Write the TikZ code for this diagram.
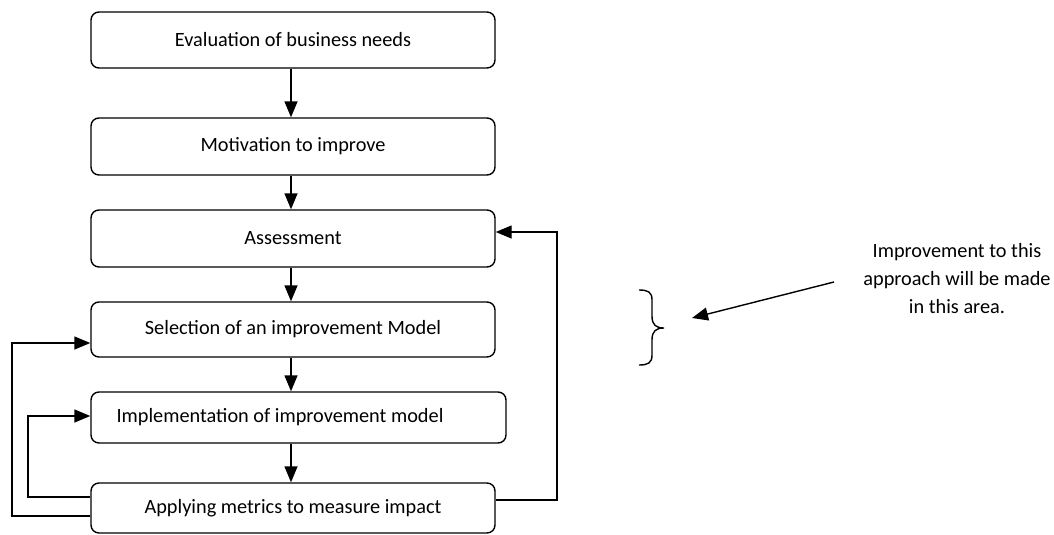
\documentclass[tikz,border=0pt]{standalone}
\usepackage{fontspec}
\setmainfont{Carlito}
\usetikzlibrary{arrows.meta,calc}
\begin{document}
\begin{tikzpicture}[x=1pt,y=-1pt,
  every node/.style={font=\fontsize{20.3pt}{28pt}\selectfont},
  stepbox/.style={draw,line width=1.4pt,rounded corners=8pt,inner sep=0pt,minimum width=404pt,minimum height=#1},
  conn/.style={line width=1.4pt,-{Triangle[length=16pt,width=13pt]}},
  plain/.style={line width=1.4pt}]
\useasboundingbox (0,0) rectangle (1054,535);
\node[stepbox=56pt] (b1) at (293,40) {Evaluation of business needs};
\node[stepbox=57pt] (b2) at (293,146.5) {Motivation to improve};
\node[stepbox=57pt] (b3) at (293,238.5) {Assessment};
\node[stepbox=55pt] (b4) at (293,329.5) {Selection of an improvement Model};
\node[stepbox=51pt,minimum width=415pt] (b5) at (298.5,417.5) {};
\node (t5) at (280,417) {Implementation of improvement model};
\node[stepbox=50pt] (b6) at (293,508) {Applying metrics to measure impact};
% down arrows
\draw[conn] ([xshift=-2pt]b1.south) -- ([xshift=-2pt]b2.north);
\draw[conn] ([xshift=-2pt]b2.south) -- ([xshift=-2pt]b3.north);
\draw[conn] ([xshift=-2pt]b3.south) -- ([xshift=-2pt]b4.north);
\draw[conn] ([xshift=-2pt]b4.south) -- ([xshift=-2pt]b4.south |- b5.north);
\draw[conn] ([xshift=-2pt]b4.south |- b5.south) -- ([xshift=-2pt]b6.north);
% feedback loops
\coordinate (r1) at (557,500);
\coordinate (r2) at (557,232);
\draw[conn] (b6.east |- r1) -- (r1) -- (r2) -- (b3.east |- r2);
\coordinate (l1) at (12,516);
\coordinate (l2) at (12,343);
\draw[conn] (b6.west |- l1) -- (l1) -- (l2) -- (b4.west |- l2);
\coordinate (m1) at (28,497);
\coordinate (m2) at (28,416);
\draw[conn] (b6.west |- m1) -- (m1) -- (m2) -- (b5.west |- m2);
% brace
\draw[plain] (639,290) .. controls (648,290) and (652,292) .. (652,300) -- (652,316)
  .. controls (652,325) and (656,328) .. (664,328)
  .. controls (656,328) and (652,331) .. (652,340) -- (652,355)
  .. controls (652,363) and (648,365) .. (639,365);
% note
\node[align=center] (note) at (957,279) {Improvement to this\\approach will be made\\in this area.};
\coordinate (n1) at (834,282);
\coordinate (n2) at (692,318);
\draw[conn] (n1) -- (n2);
\end{tikzpicture}
\end{document}
